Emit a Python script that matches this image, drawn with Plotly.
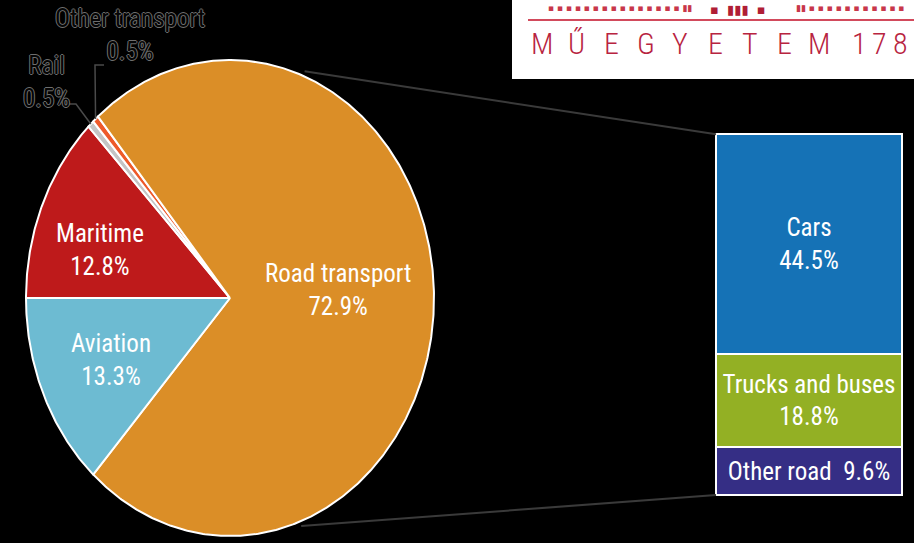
import numpy as np
import plotly.graph_objects as go

# transport CO2 shares (%), pie in clockwise order starting at 9 o'clock
pie_labels = ["Maritime", "Rail", "Other transport", "Road transport", "Aviation"]
pie_values = [12.8, 0.5, 0.5, 72.9, 13.3]
pie_colors = ["#BE1A1B", "#C4C4C4", "#EE5A2A", "#DB8E27", "#6DBBD2"]

# breakdown of road transport, stacked bottom to top
road_labels = ["Other road", "Trucks and buses", "Cars"]
road_values = [9.6, 18.8, 44.5]
road_colors = ["#352E85", "#93B024", "#1572B6"]

logo_letters = ["M", "Ű", "E", "G", "Y", "E", "T", "E", "M"]
logo_digits = ["1", "7", "8"]

FONT = "Roboto Condensed, Liberation Sans Narrow, DejaVu Sans Condensed, sans-serif"
W, H = 914, 543
PX = 4.95          # pixels per axis unit
BASE = 495         # pixel row of y = 0


def ux(px):
    return px / PX


def uy(py):
    return (BASE - py) / PX


cx, cy = ux(230), uy(298)
rx, ry = 204 / PX, 238 / PX
start_angle = 270
# label placement: (radius fraction, angle offset from slice middle)
label_place = {"Maritime": (0.67, -5.6), "Aviation": (0.64, 0), "Road transport": (0.53, -4.6)}


def edge(angle, r=1.0):
    t = np.radians(angle)
    return cx + r * rx * np.sin(t), cy + r * ry * np.cos(t)


fig = go.Figure()

# connector lines pie -> bar
bar_x, bar_w = ux(809), 186 / PX
bar_left = bar_x - bar_w / 2
for ang, ytarget in [(21, sum(road_values)), (160, 0)]:
    ex, ey = edge(ang, 1.02)
    fig.add_trace(go.Scatter(x=[ex, bar_left], y=[ey, ytarget], mode="lines",
                             line=dict(color="#3a3a3a", width=2), hoverinfo="skip"))

total = sum(pie_values)
cum = 0
mids = {}
for lab, val, col in zip(pie_labels, pie_values, pie_colors):
    a0 = start_angle + cum / total * 360
    a1 = start_angle + (cum + val) / total * 360
    cum += val
    th = np.radians(np.linspace(a0, a1, max(int((a1 - a0) * 2), 2) + 1))
    xs = np.concatenate([[cx], cx + rx * np.sin(th), [cx]])
    ys = np.concatenate([[cy], cy + ry * np.cos(th), [cy]])
    fig.add_trace(go.Scatter(x=xs, y=ys, fill="toself", fillcolor=col, mode="lines",
                             line=dict(color="white", width=2), name=lab,
                             hoverinfo="text", text=f"{lab} {val}%"))
    mids[lab] = (a0 + a1) / 2

for lab, val in zip(pie_labels, pie_values):
    if lab in label_place:
        r, off = label_place[lab]
        lx, ly = edge(mids[lab] + off, r)
        fig.add_annotation(x=lx, y=ly, text=f"{lab}<br>{val}%", showarrow=False,
                           font=dict(family=FONT, size=25, color="white"))

# small slices: outside labels with elbow leaders
outline = "1px 0 0 #6e6e6e, -1px 0 0 #6e6e6e, 0 1px 0 #6e6e6e, 0 -1px 0 #6e6e6e"
leaders = {"Rail": [(76, 104), (68, 104)], "Other transport": [(95, 65), (104, 65)]}
label_pos = {"Rail": (46, 82), "Other transport": (130, 35)}
for lab, val in zip(pie_labels, pie_values):
    if lab in leaders:
        ex, ey = edge(mids[lab], 1.0)
        pts = [(ex, ey)] + [(ux(a), uy(b)) for a, b in leaders[lab]]
        fig.add_trace(go.Scatter(x=[p[0] for p in pts], y=[p[1] for p in pts], mode="lines",
                                 line=dict(color="#4a4a4a", width=1.5), hoverinfo="skip"))
        px_, py_ = label_pos[lab]
        fig.add_annotation(x=ux(px_), y=uy(py_), text=f"{lab}<br>{val}%", showarrow=False,
                           font=dict(family=FONT, size=25, color="#050505", shadow=outline))

# stacked bar of road transport
for lab, val, col in zip(road_labels, road_values, road_colors):
    txt = f"{lab}  {val}%" if val < 12 else f"{lab}<br>{val}%"
    fig.add_trace(go.Bar(x=[bar_x], y=[val], width=[bar_w], name=lab,
                         marker=dict(color=col, line=dict(color="white", width=2)),
                         text=[txt], textposition="inside", insidetextanchor="middle",
                         textangle=0, constraintext="none",
                         textfont=dict(family=FONT, size=25, color="white"),
                         hoverinfo="text", hovertext=[f"{lab} {val}%"]))

# logo box
fig.add_shape(type="rect", x0=ux(512), x1=ux(W) + 1, y0=uy(79), y1=uy(0) + 1,
              fillcolor="white", line_width=0, layer="below")
fig.add_shape(type="line", x0=ux(528), x1=ux(W) + 1, y0=uy(20), y1=uy(20),
              line=dict(color="#D24A5C", width=2))
fig.add_annotation(x=ux(620), y=uy(8), text="▪ ▪ ▪ ▪ ▪ ▪ ▪ ▪ ▪ ▪ ▪ ▪ ▪ ▪ ▪ ▮▮", showarrow=False,
                   font=dict(family="DejaVu Sans", size=9, color="#C8374A"))
fig.add_annotation(x=ux(738), y=uy(9), text="▪  ▮▮▮  ▪", showarrow=False,
                   font=dict(family="DejaVu Sans", size=13, color="#B01E35"))
fig.add_annotation(x=ux(850), y=uy(8), text="▮▮ ▪ ▪ ▪ ▪ ▪ ▪ ▪ ▪ ▪ ▪ ▪", showarrow=False,
                   font=dict(family="DejaVu Sans", size=9, color="#C8374A"))
for i, ch in enumerate(logo_letters):
    fig.add_annotation(x=ux(542 + i * 34.6), y=uy(43), text=ch, showarrow=False,
                       font=dict(family=FONT, size=30, weight=300, color="#B8243F"))
for i, ch in enumerate(logo_digits):
    fig.add_annotation(x=ux(859 + i * 20.5), y=uy(43), text=ch, showarrow=False,
                       font=dict(family=FONT, size=30, weight=300, color="#B8243F"))

fig.update_layout(
    width=W, height=H, margin=dict(l=0, r=0, t=0, b=0),
    paper_bgcolor="black", plot_bgcolor="black", showlegend=False,
    barmode="stack", bargap=0,
    xaxis=dict(range=[0, ux(W)], visible=False, fixedrange=True),
    yaxis=dict(range=[uy(H), uy(0)], visible=False, fixedrange=True),
)

fig.write_html("out.html", config={"displayModeBar": False},
               post_script="document.body.style.margin='0';document.body.style.overflow='hidden';")
